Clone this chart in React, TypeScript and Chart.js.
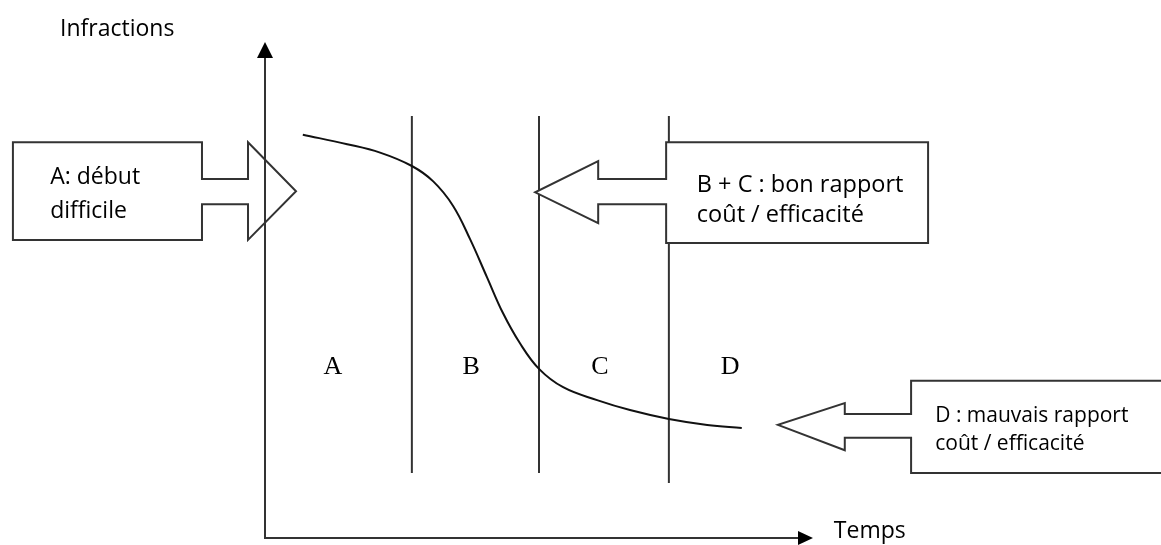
import React, { useEffect, useRef } from "react";
import { Chart, registerables } from "chart.js";

Chart.register(...registerables);

// ---- Data (time on x, infractions on y, arbitrary 0..100 units) ----
const curveX = [6.9, 15.0, 21.0, 26.8, 30.7, 34.3, 37.4, 40.5, 43.4, 46.5, 50.0, 54.4, 60.6, 66.6, 73.7, 80.7, 87.0];
const curveY = [81.3, 79.4, 77.7, 75.0, 71.9, 67.0, 60.3, 52.6, 45.4, 39.3, 34.1, 30.4, 27.8, 25.8, 24.0, 22.8, 22.2];

const phaseBoundaries = [26.8, 50.0, 73.7];
const phaseBottoms = [13.1, 13.1, 11.1];
const phaseTop = 85.1;

const phaseLabels = ["A", "B", "C", "D"];
const phaseLabelX = [12.4, 37.6, 61.1, 84.9];
const phaseLabelY = 34.5;

const axisTitleY = "Infractions";
const axisTitleX = "Temps";

const calloutTexts = [
  ["A: début", "difficile"],
  ["B + C : bon rapport", "coût / efficacité"],
  ["D : mauvais rapport", "coût / efficacité"],
];

// ---- Layout of the callouts (data units) ----
type Callout = {
  boxOuter: number;
  boxInner: number;
  headBase: number;
  tipX: number;
  top: number;
  bottom: number;
  shaftTop: number;
  shaftBottom: number;
  headTop: number;
  headBottom: number;
  tipY: number;
  textX: number;
  baselines: number[];
  fontSize: number;
  fill: boolean;
};

const callouts: Callout[] = [
  {
    boxOuter: -46.0, boxInner: -11.5, headBase: -3.1, tipX: 5.66,
    top: 79.8, bottom: 60.1, shaftTop: 72.4, shaftBottom: 67.3, headTop: 79.8, headBottom: 60.1, tipY: 69.9,
    textX: -39.2, baselines: [71.4, 64.5], fontSize: 23, fill: false,
  },
  {
    boxOuter: 121.0, boxInner: 73.2, headBase: 60.8, tipX: 49.3,
    top: 79.8, bottom: 59.5, shaftTop: 72.4, shaftBottom: 67.3, headTop: 76.0, headBottom: 63.5, tipY: 69.7,
    textX: 78.8, baselines: [69.8, 63.7], fontSize: 23.5, fill: true,
  },
  {
    boxOuter: 170.0, boxInner: 117.9, headBase: 105.8, tipX: 93.6,
    top: 31.7, bottom: 13.1, shaftTop: 25.0, shaftBottom: 20.2, headTop: 27.2, headBottom: 17.7, tipY: 22.8,
    textX: 122.3, baselines: [23.4, 17.7], fontSize: 21, fill: true,
  },
];

const LINE_COLOR = "#333333";
const TEXT_COLOR = "#000000";
const TEXT_FONT = "'Open Sans', sans-serif";

const diagramPlugin = {
  id: "diagram",
  afterDatasetsDraw(chart: any) {
    const ctx: CanvasRenderingContext2D = chart.ctx;
    const xs = chart.scales.x;
    const ys = chart.scales.y;
    const px = (v: number) => xs.getPixelForValue(v);
    const py = (v: number) => ys.getPixelForValue(v);

    ctx.save();
    callouts.forEach((c, i) => {
      const pts: [number, number][] = [
        [c.boxOuter, c.top],
        [c.boxInner, c.top],
        [c.boxInner, c.shaftTop],
        [c.headBase, c.shaftTop],
        [c.headBase, c.headTop],
        [c.tipX, c.tipY],
        [c.headBase, c.headBottom],
        [c.headBase, c.shaftBottom],
        [c.boxInner, c.shaftBottom],
        [c.boxInner, c.bottom],
        [c.boxOuter, c.bottom],
      ];
      ctx.beginPath();
      pts.forEach(([x, y], k) => {
        if (k === 0) ctx.moveTo(px(x), py(y));
        else ctx.lineTo(px(x), py(y));
      });
      ctx.closePath();
      if (c.fill) {
        ctx.fillStyle = "#ffffff";
        ctx.fill();
      }
      ctx.strokeStyle = LINE_COLOR;
      ctx.lineWidth = 2;
      ctx.lineJoin = "miter";
      ctx.stroke();

      ctx.fillStyle = TEXT_COLOR;
      ctx.font = `${c.fontSize}px ${TEXT_FONT}`;
      ctx.textAlign = "left";
      ctx.textBaseline = "alphabetic";
      calloutTexts[i].forEach((t, k) => {
        ctx.fillText(t, px(c.textX), py(c.baselines[k]));
      });
    });

    // axes
    const x0 = px(0), y0 = py(0), xTip = px(100), yTip = py(100);
    ctx.strokeStyle = LINE_COLOR;
    ctx.lineWidth = 2;
    ctx.beginPath();
    ctx.moveTo(x0, yTip + 10);
    ctx.lineTo(x0, y0);
    ctx.lineTo(xTip - 10, y0);
    ctx.stroke();
    ctx.fillStyle = "#000";
    ctx.beginPath();
    ctx.moveTo(x0, yTip);
    ctx.lineTo(x0 - 8, yTip + 16);
    ctx.lineTo(x0 + 8, yTip + 16);
    ctx.closePath();
    ctx.fill();
    ctx.beginPath();
    ctx.moveTo(xTip, y0);
    ctx.lineTo(xTip - 15, y0 - 7);
    ctx.lineTo(xTip - 15, y0 + 7);
    ctx.closePath();
    ctx.fill();

    // axis titles
    ctx.fillStyle = TEXT_COLOR;
    ctx.font = `23px ${TEXT_FONT}`;
    ctx.textAlign = "left";
    ctx.textBaseline = "alphabetic";
    ctx.fillText(axisTitleY, px(-37.4), py(101.2));
    ctx.fillText(axisTitleX, px(103.8), py(0));

    // phase labels
    ctx.font = "26px 'Liberation Serif', 'DejaVu Serif', serif";
    ctx.textAlign = "center";
    ctx.textBaseline = "middle";
    phaseLabels.forEach((l, k) => {
      ctx.fillText(l, px(phaseLabelX[k]), py(phaseLabelY));
    });
    ctx.restore();
  },
};

export default function App() {
  const ref = useRef<HTMLCanvasElement | null>(null);

  useEffect(() => {
    document.body.style.margin = "0";
    if (!ref.current) return;

    const datasets: any[] = [
      {
        data: curveX.map((x, i) => ({ x, y: curveY[i] })),
        borderColor: "#111111",
        borderWidth: 2,
        pointRadius: 0,
        showLine: true,
        tension: 0.4,
        clip: false,
      },
      ...phaseBoundaries.map((x, i) => ({
        data: [
          { x, y: phaseBottoms[i] },
          { x, y: phaseTop },
        ],
        borderColor: LINE_COLOR,
        borderWidth: 2,
        pointRadius: 0,
        showLine: true,
        clip: false,
      })),
    ];

    const chart = new Chart(ref.current, {
      type: "scatter",
      data: { datasets },
      options: {
        animation: false,
        responsive: false,
        devicePixelRatio: 1,
        layout: { padding: { left: 265, right: 348, top: 42, bottom: 7 } },
        plugins: { legend: { display: false }, tooltip: { enabled: false } },
        events: [],
        scales: {
          x: { type: "linear", min: 0, max: 100, display: false },
          y: { type: "linear", min: 0, max: 100, display: false },
        },
      },
      plugins: [diagramPlugin],
    });
    return () => chart.destroy();
  }, []);

  return (
    <div style={{ width: 1161, height: 545, background: "#fff" }}>
      <canvas ref={ref} width={1161} height={545} style={{ display: "block" }} />
    </div>
  );
}
